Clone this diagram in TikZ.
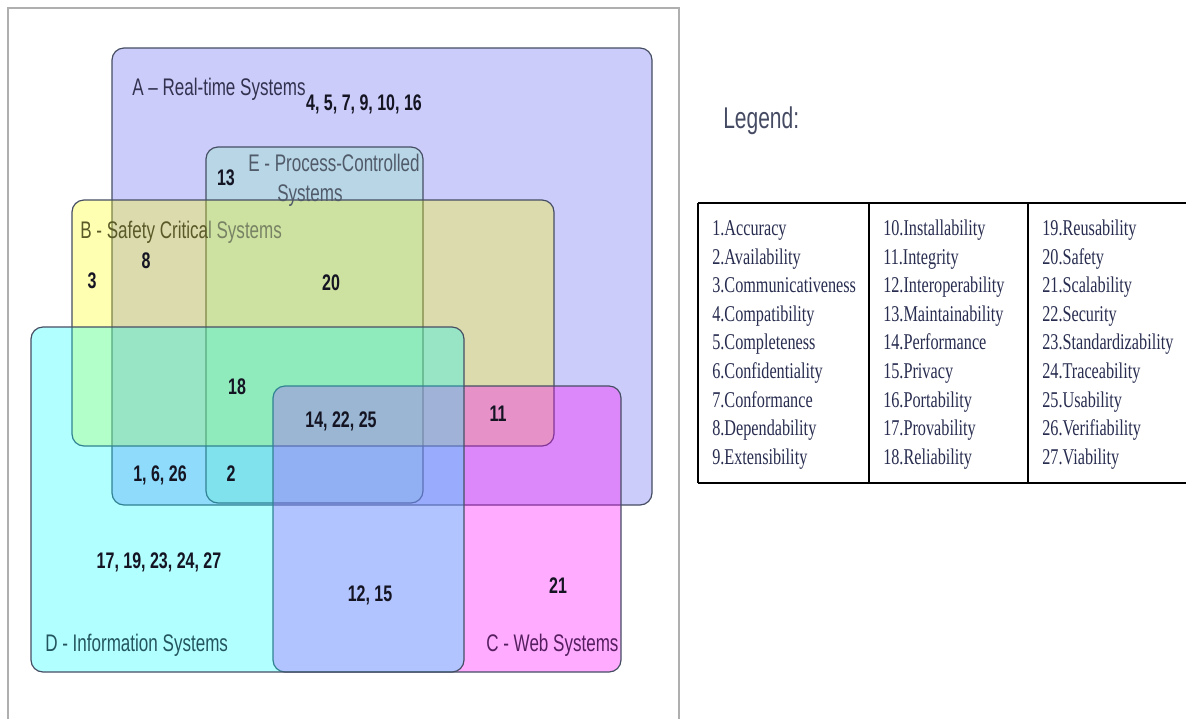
\documentclass[tikz,border=0pt]{standalone}
\usepackage{fontspec}
\setmainfont{Liberation Sans}
\newfontfamily\setfont[FakeStretch=0.71]{Liberation Sans}
\newfontfamily\legendfont[FakeStretch=0.7]{Liberation Sans}
\newfontfamily\itemfont[FakeStretch=0.72]{Liberation Serif}

\definecolor{aFill}{RGB}{204,204,250}
\definecolor{eFill}{RGB}{140,240,185}
\definecolor{bFill}{RGB}{255,255,0}
\definecolor{cFill}{RGB}{255,0,255}
\definecolor{dFill}{RGB}{0,255,255}
\definecolor{boxline}{RGB}{70,78,100}
\definecolor{framegray}{RGB}{175,175,175}
\definecolor{numtext}{RGB}{20,20,35}
\definecolor{atext}{RGB}{50,50,80}
\definecolor{etext}{RGB}{80,90,105}
\definecolor{btextdark}{RGB}{90,90,40}
\definecolor{btextlight}{RGB}{120,130,100}
\definecolor{dtext}{RGB}{35,85,95}
\definecolor{ctext}{RGB}{85,30,95}
\definecolor{legendtext}{RGB}{70,75,100}
\definecolor{itemtext}{RGB}{40,45,80}

\begin{document}
\begin{tikzpicture}[x=0.75pt,y=-0.75pt,
  setbox/.style={draw=boxline, line width=0.9pt, rounded corners=9pt},
  setlabel/.style={anchor=base west, inner sep=0pt,
    font=\setfont\fontsize{18pt}{22.5pt}\selectfont},
  setnum/.style={anchor=base, inner sep=0pt, text=numtext,
    font=\setfont\bfseries\fontsize{16.9pt}{20pt}\selectfont},
  legitem/.style={anchor=base west, inner sep=0pt, text=itemtext,
    font=\itemfont\fontsize{16.9pt}{20pt}\selectfont},
  rule/.style={draw=black, line width=1.5pt}]
\useasboundingbox (0,0) rectangle (1186,719);
\fill[white] (0,0) rectangle (1186,719);

% outer frame around the diagram
\draw[framegray, line width=1.1pt] (8,719) -- (8,8) -- (679,8) -- (679,719);

% the five overlapping sets
\draw[setbox, fill=aFill] (112,48) rectangle (652,505);
\draw[setbox, fill=eFill, fill opacity=0.3] (206,147) rectangle (423,503);
\draw[setbox, fill=bFill, fill opacity=0.3] (72,200) rectangle (554,446);
\draw[setbox, fill=cFill, fill opacity=0.33] (273,386) rectangle (621,672);
\draw[setbox, fill=dFill, fill opacity=0.3] (31,327) rectangle (464,672);

% set names
\node[setlabel, text=atext] (labA) at (132,95.6) {A – Real-time Systems};
\node[setlabel, text=etext, anchor=north west, align=left] (labE) at (248,154)
  {E - Process-Controlled\\\hspace*{21.75pt}Systems};
\node[setlabel] (labB) at (80,238.6)
  {{\color{btextdark}B - Safety Critica}{\color{btextlight}l Systems}};
\node[setlabel, text=dtext] (labD) at (45,651.6) {D - Information Systems};
\node[setlabel, text=ctext] (labC) at (486,651.6) {C - Web Systems};

% attribute numbers in each region
\node[setnum] (nA)   at (364,110) {4, 5, 7, 9, 10, 16};
\node[setnum] (nE)   at (226,185) {13};
\node[setnum] (nB)   at (92,288)  {3};
\node[setnum] (nAB)  at (146,268) {8};
\node[setnum] (nABE) at (331,290) {20};
\node[setnum] (nABDE) at (237,394) {18};
\node[setnum] (nABCDE) at (341,427) {14, 22, 25};
\node[setnum] (nABC) at (498,421) {11};
\node[setnum] (nAD)  at (160,481) {1, 6, 26};
\node[setnum] (nADE) at (231,481) {2};
\node[setnum] (nD)   at (159,568) {17, 19, 23, 24, 27};
\node[setnum] (nCD)  at (370,601) {12, 15};
\node[setnum] (nC)   at (558,593) {21};

% legend
\node[anchor=base west, inner sep=0pt, text=legendtext,
  font=\legendfont\fontsize{22.5pt}{26pt}\selectfont] (legend) at (723,128) {Legend:};

\draw[rule, line width=2pt] (698,203) -- (1186,203);
\draw[rule] (698,483) -- (1186,483);
\draw[rule] (698,203) -- (698,483);
\draw[rule, line width=1.2pt] (869,203) -- (869,483);
\draw[rule] (1028,203) -- (1028,483);

\foreach \t [count=\i from 0] in {1.Accuracy, 2.Availability, 3.Communicativeness,
    4.Compatibility, 5.Completeness, 6.Confidentiality, 7.Conformance,
    8.Dependability, 9.Extensibility}
  \node[legitem] (ia\i) at (712,235.5+28.6*\i) {\t};
\foreach \t [count=\i from 0] in {10.Installability, 11.Integrity, 12.Interoperability,
    13.Maintainability, 14.Performance, 15.Privacy, 16.Portability,
    17.Provability, 18.Reliability}
  \node[legitem] (ib\i) at (883,235.5+28.6*\i) {\t};
\foreach \t [count=\i from 0] in {19.Reusability, 20.Safety, 21.Scalability,
    22.Security, 23.Standardizability, 24.Traceability, 25.Usability,
    26.Verifiability, 27.Viability}
  \node[legitem] (ic\i) at (1042,235.5+28.6*\i) {\t};
\end{tikzpicture}
\end{document}
